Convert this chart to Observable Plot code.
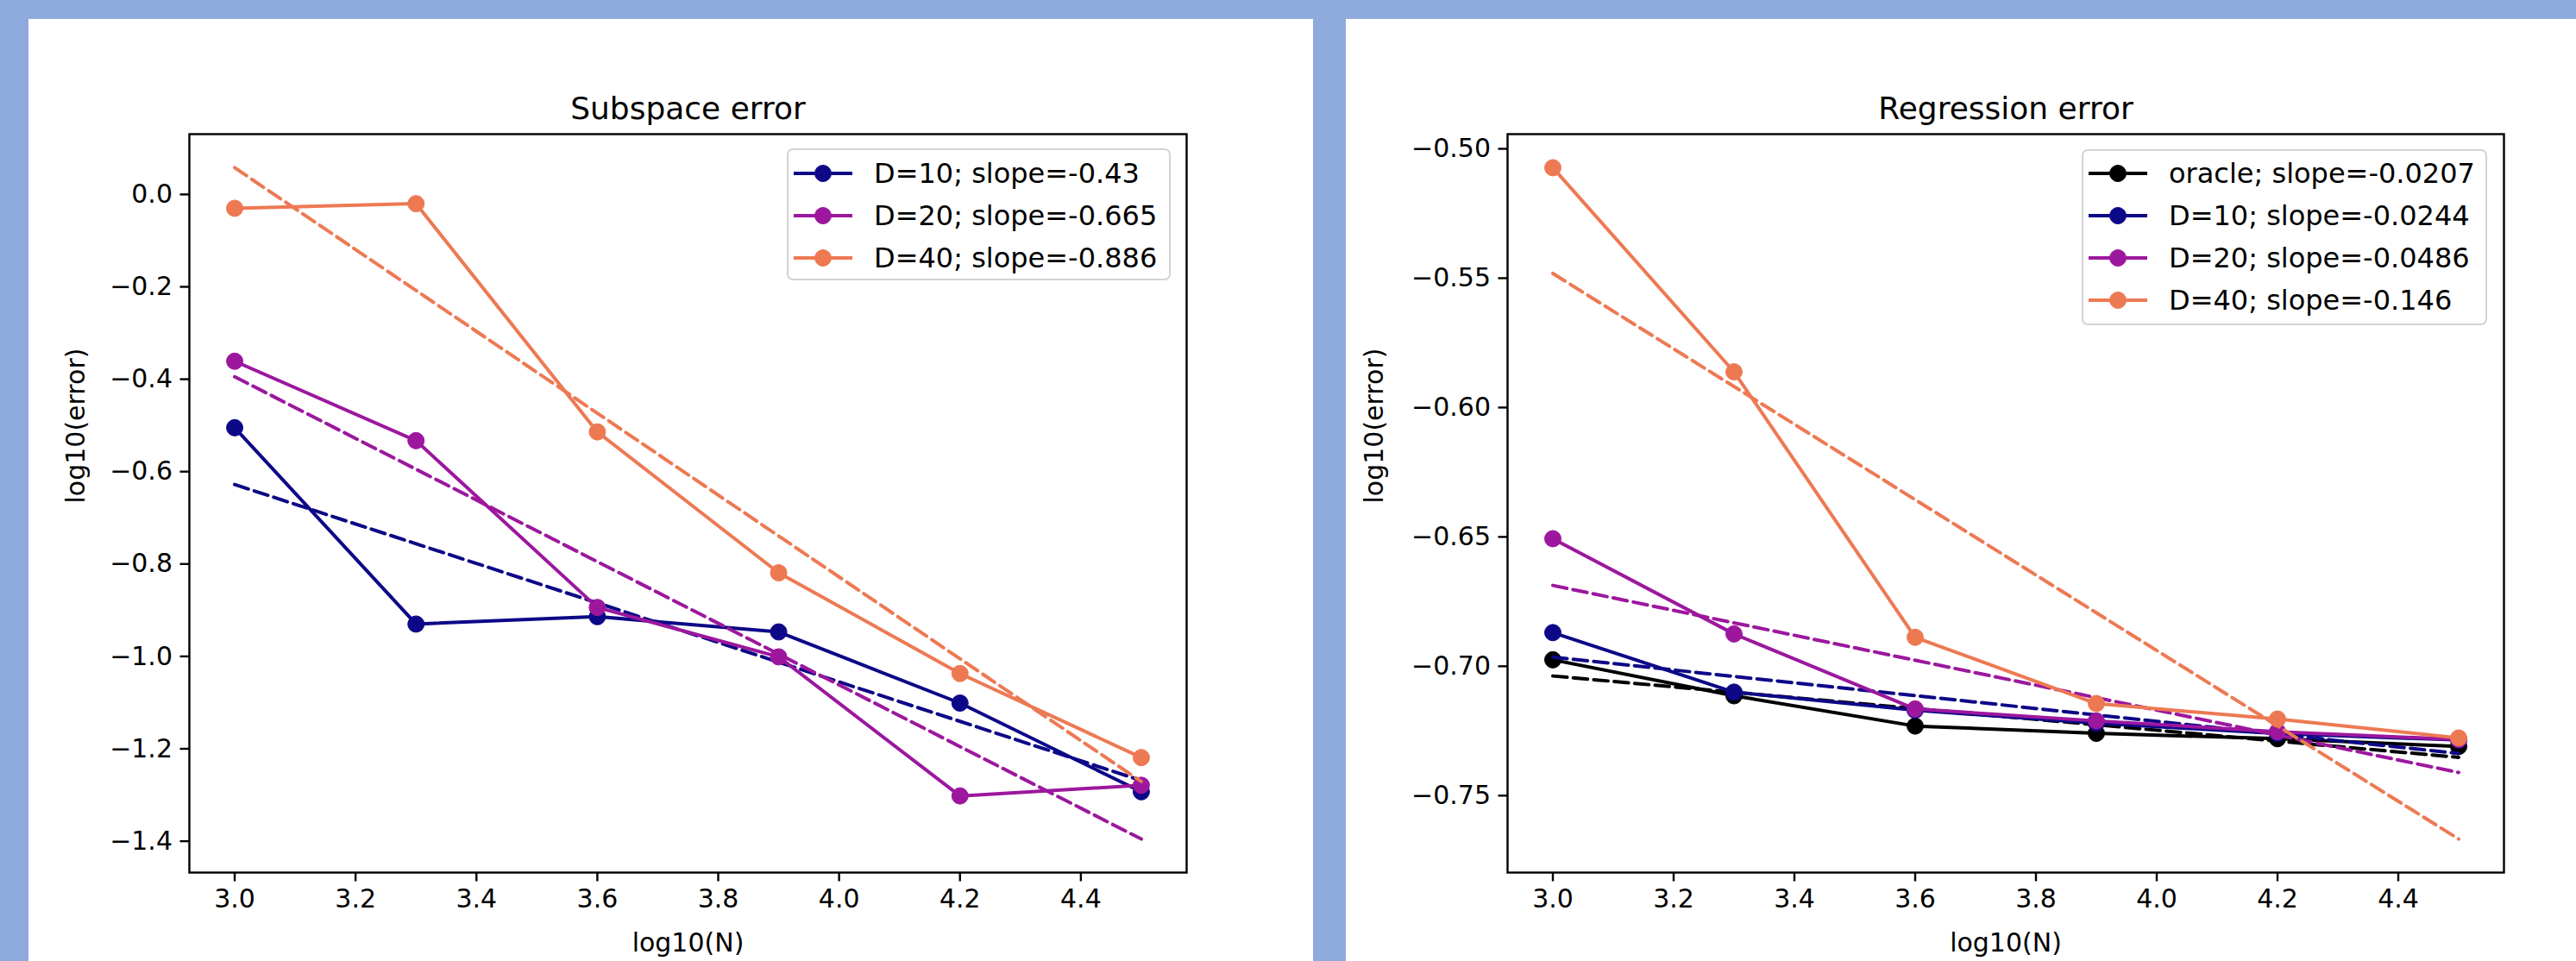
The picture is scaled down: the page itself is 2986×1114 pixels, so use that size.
<!DOCTYPE html>
<html>
<head>
<meta charset="utf-8">
<script src="https://cdn.jsdelivr.net/npm/d3@7"></script>
<script src="https://cdn.jsdelivr.net/npm/@observablehq/plot@0.6"></script>
<style>
  html, body { margin: 0; padding: 0; }
  body { width: 2986px; height: 1114px; background: #8faadc; position: relative; overflow: hidden; font-family: "DejaVu Sans", sans-serif; }
  .panel { position: absolute; background: #fff; }
  .panel svg { position: absolute; left: 0; top: 0; max-width: none; }
  .legend { position: absolute; background: rgba(255,255,255,0.8); border: 2px solid #d3d3d3; border-radius: 7px; box-sizing: border-box; }
  .legend .sw { position: absolute; left: 0; }
  .legend .lbl { position: absolute; font-size: 32px; line-height: 1; color: #000; white-space: nowrap; transform: translateY(-50%); }
</style>
</head>
<body>
<div id="left" class="panel" style="left:33px; top:22px; width:1489px; height:1092px;"></div>
<div id="right" class="panel" style="left:1560px; top:22px; width:1426px; height:1092px;"></div>
<script>
// ---------- data ----------
const logN = [3.0, 3.3, 3.6, 3.9, 4.2, 4.5];
const xTicks = [3.0, 3.2, 3.4, 3.6, 3.8, 4.0, 4.2, 4.4];

// Subspace error (left)
const subD10 = [-0.505, -0.930, -0.914, -0.947, -1.101, -1.293];
const subD20 = [-0.361, -0.533, -0.894, -1.001, -1.302, -1.279];
const subD40 = [-0.030, -0.020, -0.514, -0.819, -1.037, -1.219];
const subLegend = ["D=10; slope=-0.43", "D=20; slope=-0.665", "D=40; slope=-0.886"];
const subYTicks = [0.0, -0.2, -0.4, -0.6, -0.8, -1.0, -1.2, -1.4];

// Regression error (right)
const regOracle = [-0.6975, -0.7114, -0.7231, -0.7259, -0.7280, -0.7310];
const regD10 = [-0.6870, -0.7100, -0.7170, -0.7220, -0.7260, -0.7285];
const regD20 = [-0.6507, -0.6875, -0.7165, -0.7211, -0.7253, -0.7283];
const regD40 = [-0.5073, -0.5862, -0.6888, -0.7144, -0.7204, -0.7277];
const regLegend = ["oracle; slope=-0.0207", "D=10; slope=-0.0244", "D=20; slope=-0.0486", "D=40; slope=-0.146"];
const regYTicks = [-0.50, -0.55, -0.60, -0.65, -0.70, -0.75];

const colOracle = "#000000";
const colD10 = "#0d0887";
const colD20 = "#9c179e";
const colD40 = "#ed7953";

// ---------- helpers ----------
function fitLine(xs, ys) {
  const mx = d3.mean(xs), my = d3.mean(ys);
  const b = d3.sum(xs, (x, i) => (x - mx) * (ys[i] - my)) / d3.sum(xs, x => (x - mx) ** 2);
  const x0 = xs[0], x1 = xs[xs.length - 1];
  return [{x: x0, y: my + b * (x0 - mx)}, {x: x1, y: my + b * (x1 - mx)}];
}

function makePanel(cfg) {
  const series = cfg.series.map(s => ({
    ...s,
    pts: logN.map((x, i) => ({x, y: s.values[i]})),
    fit: fitLine(logN, s.values)
  }));
  const allY = series.flatMap(s => s.pts.map(d => d.y).concat(s.fit.map(d => d.y)));
  const [lo, hi] = d3.extent(allY);
  const pad = (hi - lo) * 0.05;
  const [xl, xh] = d3.extent(logN);
  const xpad = (xh - xl) * 0.05;
  const dash = "16.6,7.2";
  const marks = [
    Plot.axisX({ticks: xTicks, tickFormat: d3.format(".1f"), tickSize: 10.5, tickPadding: 9, strokeWidth: 2.4, label: null}),
    Plot.axisY({ticks: cfg.yTicks, tickFormat: d3.format(cfg.yFormat), tickSize: 10.5, tickPadding: 9, strokeWidth: 2.4, label: null})
  ];
  for (const s of series) {
    marks.push(Plot.line(s.pts, {x: "x", y: "y", stroke: s.color, strokeWidth: 4}));
    marks.push(Plot.dot(s.pts, {x: "x", y: "y", r: 9.5, fill: s.color, stroke: s.color, strokeWidth: 1}));
    marks.push(Plot.line(s.fit, {x: "x", y: "y", stroke: s.color, strokeWidth: 4, strokeDasharray: dash}));
  }
  marks.push(Plot.frame({stroke: "black", strokeWidth: 2.4}));
  marks.push(Plot.text([cfg.title], {text: d => d, frameAnchor: "top", lineAnchor: "bottom", dy: -18, fontSize: 36, fill: "black"}));
  marks.push(Plot.text(["log10(N)"], {text: d => d, frameAnchor: "bottom", lineAnchor: "middle", dy: 82, fontSize: 30, fill: "black"}));
  marks.push(Plot.text(["log10(error)"], {text: d => d, frameAnchor: "left", rotate: -90, dx: cfg.ylabelDx, fontSize: 30, fill: "black"}));

  const svg = Plot.plot({
    width: cfg.width, height: cfg.height,
    marginLeft: cfg.marginLeft, marginRight: cfg.marginRight,
    marginTop: cfg.marginTop, marginBottom: cfg.marginBottom,
    style: {fontFamily: "DejaVu Sans, sans-serif", fontSize: "30px", color: "black", background: "white", overflow: "visible"},
    x: {domain: [xl - xpad, xh + xpad]},
    y: {domain: [lo - pad, hi + pad]},
    marks
  });
  const host = document.getElementById(cfg.host);
  host.appendChild(svg);

  // legend
  const lg = document.createElement("div");
  lg.className = "legend";
  Object.assign(lg.style, {left: cfg.legend.left + "px", top: cfg.legend.top + "px", width: cfg.legend.width + "px", height: cfg.legend.height + "px"});
  series.forEach((s, i) => {
    const cy = cfg.legend.firstRow + i * cfg.legend.rowStep;
    const sw = document.createElementNS("http://www.w3.org/2000/svg", "svg");
    sw.setAttribute("class", "sw");
    sw.setAttribute("width", 90); sw.setAttribute("height", 40);
    sw.style.top = (cy - 20) + "px";
    sw.innerHTML = `<line x1="6" x2="74" y1="20" y2="20" stroke="${s.color}" stroke-width="4"/>` +
      `<circle cx="40" cy="20" r="9.5" fill="${s.color}" stroke="${s.color}"/>`;
    lg.appendChild(sw);
    const t = document.createElement("div");
    t.className = "lbl";
    t.textContent = s.label;
    t.style.left = "99px";
    t.style.top = cy + "px";
    lg.appendChild(t);
  });
  host.appendChild(lg);
}

makePanel({
  host: "left", width: 1489, height: 1092,
  marginLeft: 186, marginRight: 147, marginTop: 133, marginBottom: 103,
  title: "Subspace error", yTicks: subYTicks, yFormat: ".1f", ylabelDx: -131,
  series: [
    {label: subLegend[0], values: subD10, color: colD10},
    {label: subLegend[1], values: subD20, color: colD20},
    {label: subLegend[2], values: subD40, color: colD40}
  ],
  legend: {left: 879, top: 150, width: 445, height: 153, firstRow: 27, rowStep: 49}
});

makePanel({
  host: "right", width: 1426, height: 1092,
  marginLeft: 187, marginRight: 84, marginTop: 133, marginBottom: 103,
  title: "Regression error", yTicks: regYTicks, yFormat: ".2f", ylabelDx: -154,
  series: [
    {label: regLegend[0], values: regOracle, color: colOracle},
    {label: regLegend[1], values: regD10, color: colD10},
    {label: regLegend[2], values: regD20, color: colD20},
    {label: regLegend[3], values: regD40, color: colD40}
  ],
  legend: {left: 853, top: 151, width: 470, height: 204, firstRow: 26, rowStep: 49}
});
</script>
</body>
</html>
